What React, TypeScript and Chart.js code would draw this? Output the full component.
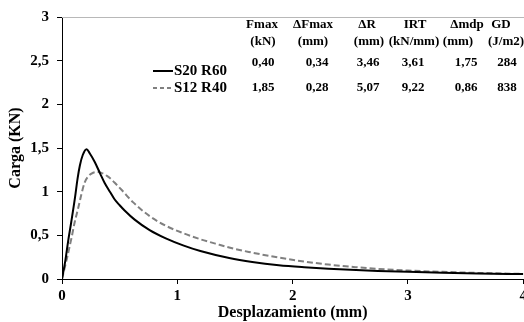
import React, { useEffect, useRef } from "react";
import { Chart, registerables } from "chart.js";

Chart.register(...registerables);

// ---- Data ----
const s20X = [0, 0.03, 0.054, 0.08, 0.112, 0.135, 0.155, 0.18, 0.213, 0.24, 0.284, 0.33, 0.37, 0.42, 0.457, 0.5, 0.543, 0.63, 0.76, 0.9, 1.05, 1.2, 1.45, 1.65, 1.88, 2.1, 2.31, 2.55, 2.74, 3.0, 3.3, 3.6, 4.0];
const s20Y = [0, 0.22, 0.44, 0.65, 0.925, 1.15, 1.3, 1.42, 1.487, 1.44, 1.34, 1.21, 1.1, 0.99, 0.91, 0.845, 0.785, 0.68, 0.56, 0.465, 0.385, 0.32, 0.24, 0.195, 0.158, 0.135, 0.118, 0.103, 0.093, 0.082, 0.072, 0.064, 0.056];
const s12X = [0, 0.04, 0.083, 0.11, 0.14, 0.17, 0.198, 0.23, 0.27, 0.31, 0.342, 0.39, 0.428, 0.47, 0.514, 0.615, 0.76, 0.9, 1.04, 1.2, 1.33, 1.45, 1.62, 1.88, 2.1, 2.31, 2.55, 2.74, 3.0, 3.3, 3.6, 4.0];
const s12Y = [0, 0.22, 0.475, 0.65, 0.81, 0.98, 1.11, 1.18, 1.217, 1.225, 1.215, 1.18, 1.14, 1.085, 1.025, 0.88, 0.72, 0.61, 0.53, 0.455, 0.405, 0.36, 0.31, 0.245, 0.2, 0.165, 0.135, 0.115, 0.097, 0.082, 0.07, 0.058];

const seriesNames = ["S20 R60", "S12 R40"];
const tableHeaders = ["Fmax", "\u0394Fmax", "\u0394R", "IRT", "\u0394mdp", "GD"];
const tableUnits = ["(kN)", "(mm)", "(mm)", "(kN/mm)", "(mm)", "(J/m2)"];
const rowS20 = ["0,40", "0,34", "3,46", "3,61", "1,75", "284"];
const rowS12 = ["1,85", "0,28", "5,07", "9,22", "0,86", "838"];

const xTitle = "Desplazamiento (mm)";
const yTitle = "Carga (KN)";

const FONT = "'Liberation Serif', 'Times New Roman', serif";

// layout-only constants for the table overlay
const headerX = [262, 313, 367, 415, 467, 501];
const unitX = [263, 313, 369, 414, 458, 506];
const valueX = [263, 317, 368, 413, 466, 507];

const overlayPlugin = {
  id: "overlay",
  afterDraw(chart: any) {
    const ctx = chart.ctx as CanvasRenderingContext2D;
    const y3 = chart.scales.y.getPixelForValue(3);
    ctx.save();
    // top border line
    ctx.strokeStyle = "#b8b8b8";
    ctx.lineWidth = 1;
    ctx.beginPath();
    ctx.moveTo(chart.chartArea.left, Math.round(y3) + 0.5);
    ctx.lineTo(chart.width, Math.round(y3) + 0.5);
    ctx.stroke();

    ctx.fillStyle = "#000";
    ctx.textBaseline = "middle";
    ctx.font = `bold 13px ${FONT}`;
    ctx.textAlign = "center";
    tableHeaders.forEach((t, i) => ctx.fillText(t, headerX[i], 25));
    tableUnits.forEach((t, i) => ctx.fillText(t, unitX[i], 42));
    rowS20.forEach((t, i) => ctx.fillText(t, valueX[i], 63));
    rowS12.forEach((t, i) => ctx.fillText(t, valueX[i], 88));

    // legend
    ctx.lineWidth = 2;
    ctx.strokeStyle = "#000";
    ctx.setLineDash([]);
    ctx.beginPath();
    ctx.moveTo(153, 71);
    ctx.lineTo(173, 71);
    ctx.stroke();
    ctx.strokeStyle = "#808080";
    ctx.setLineDash([4, 3]);
    ctx.beginPath();
    ctx.moveTo(153, 88);
    ctx.lineTo(173, 88);
    ctx.stroke();
    ctx.setLineDash([]);
    ctx.textAlign = "left";
    ctx.font = `bold 15px ${FONT}`;
    ctx.fillText(seriesNames[0], 174, 71);
    ctx.fillText(seriesNames[1], 174, 88);
    ctx.restore();
  },
};

export default function App() {
  const ref = useRef<HTMLCanvasElement>(null);
  useEffect(() => {
    if (!ref.current) return;
    const fmt = (v: any) => String(v).replace(".", ",");
    const chart = new Chart(ref.current, {
      type: "line",
      data: {
        datasets: [
          {
            label: seriesNames[0],
            data: s20X.map((x, i) => ({ x, y: s20Y[i] })),
            borderColor: "#000000",
            borderWidth: 2,
            pointRadius: 0,
            cubicInterpolationMode: "monotone",
            fill: false,
          },
          {
            label: seriesNames[1],
            data: s12X.map((x, i) => ({ x, y: s12Y[i] })),
            borderColor: "#808080",
            borderWidth: 2,
            borderDash: [6, 3],
            pointRadius: 0,
            cubicInterpolationMode: "monotone",
            fill: false,
          },
        ],
      },
      options: {
        responsive: false,
        animation: false,
        layout: { padding: { top: 12, right: 4, left: 0, bottom: 0 } },
        plugins: { legend: { display: false }, tooltip: { enabled: false } },
        scales: {
          x: {
            type: "linear",
            min: 0,
            max: 4,
            ticks: {
              stepSize: 1,
              color: "#000",
              font: { family: FONT, size: 15, weight: "bold" },
              padding: 3,
              maxRotation: 0,
              callback: fmt,
            },
            grid: { drawOnChartArea: false, drawTicks: true, tickLength: 5, tickColor: "#000", color: "#000" },
            border: { color: "#000", width: 1 },
            title: {
              display: true,
              text: xTitle,
              color: "#000",
              font: { family: FONT, size: 16, weight: "bold" },
              padding: { top: 0, bottom: 0 },
            },
            afterFit: (s: any) => {
              s.height = 43;
            },
          },
          y: {
            type: "linear",
            min: 0,
            max: 3,
            ticks: {
              stepSize: 0.5,
              color: "#000",
              font: { family: FONT, size: 15, weight: "bold" },
              padding: 8,
              callback: fmt,
            },
            grid: { drawOnChartArea: false, drawTicks: true, tickLength: 5, tickColor: "#000", color: "#000" },
            border: { color: "#000", width: 1 },
            title: {
              display: true,
              text: yTitle,
              color: "#000",
              font: { family: FONT, size: 16, weight: "bold" },
              padding: { top: 6, bottom: 0 },
            },
            afterFit: (s: any) => {
              s.width = 62;
            },
          },
        },
      },
      plugins: [overlayPlugin],
    } as any);
    return () => chart.destroy();
  }, []);
  return (
    <div style={{ position: "absolute", left: 0, top: 0, width: 524, height: 322, overflow: "hidden", background: "#fff" }}>
      <canvas ref={ref} width={530} height={322} style={{ display: "block", width: 530, height: 322 }} />
    </div>
  );
}
